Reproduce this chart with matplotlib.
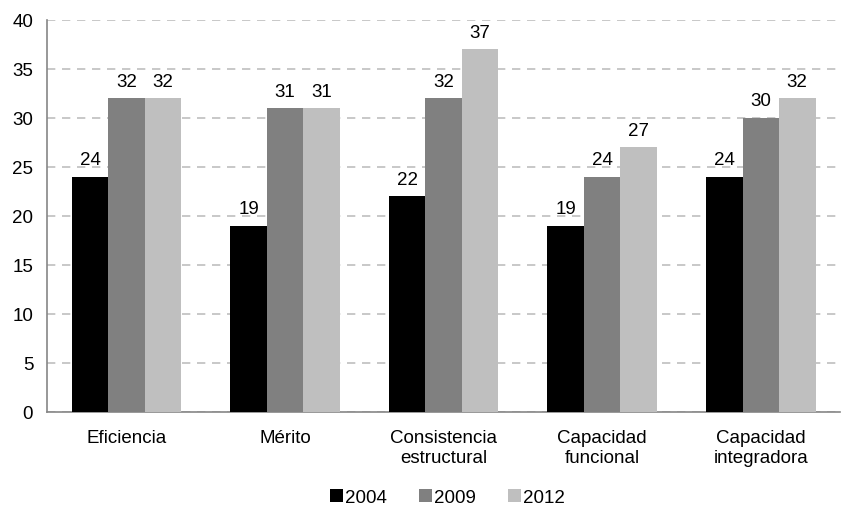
import matplotlib.pyplot as plt
import numpy as np

plt.rcParams['font.family'] = ['Liberation Sans', 'DejaVu Sans']

# Datos del gráfico
categorias = ['Eficiencia', 'Mérito', 'Consistencia\nestructural',
              'Capacidad\nfuncional', 'Capacidad\nintegradora']
anios = ['2004', '2009', '2012']
valores_2004 = [24, 19, 22, 19, 24]
valores_2009 = [32, 31, 32, 24, 30]
valores_2012 = [32, 31, 37, 27, 32]
colores = ['#000000', '#808080', '#BFBFBF']


def graficar():
    fig = plt.figure(figsize=(8.49, 5.06), dpi=100)
    ax = fig.add_axes([0.0555, 0.184, 0.934, 0.775])

    x = np.arange(len(categorias))
    ancho = 0.23
    series = [valores_2004, valores_2009, valores_2012]
    for i, (serie, anio) in enumerate(zip(series, anios)):
        barras = ax.bar(x + (i - 1) * ancho, serie, ancho, color=colores[i],
                        label=anio, zorder=3)
        ax.bar_label(barras, padding=6, fontsize=13.5)

    ax.set_xlim(-0.5, len(categorias) - 0.5)
    ax.set_ylim(0, 40)
    ax.set_yticks(range(0, 41, 5))
    ax.set_xticks(x)
    ax.set_xticklabels(categorias, fontsize=13.5, linespacing=1.3)
    ax.tick_params(axis='y', labelsize=13.5, length=0, pad=10)
    ax.tick_params(axis='x', length=0, pad=12)

    ax.yaxis.grid(True, color='#BFBFBF', linestyle=(0, (5, 4)), linewidth=1.2, zorder=0)
    for lado in ['top', 'right']:
        ax.spines[lado].set_visible(False)
    ax.spines['left'].set_color('#868686')
    ax.spines['bottom'].set_color('#868686')
    ax.spines['left'].set_linewidth(1.2)
    ax.spines['bottom'].set_linewidth(1.2)

    fig.legend(loc='lower center', bbox_to_anchor=(0.527, -0.035), ncol=3, frameon=False,
               fontsize=13.5, handlelength=0.7, handleheight=0.7, handletextpad=0.1,
               columnspacing=1.7)
    fig.savefig('out.png', dpi=100)


if __name__ == '__main__':
    graficar()
